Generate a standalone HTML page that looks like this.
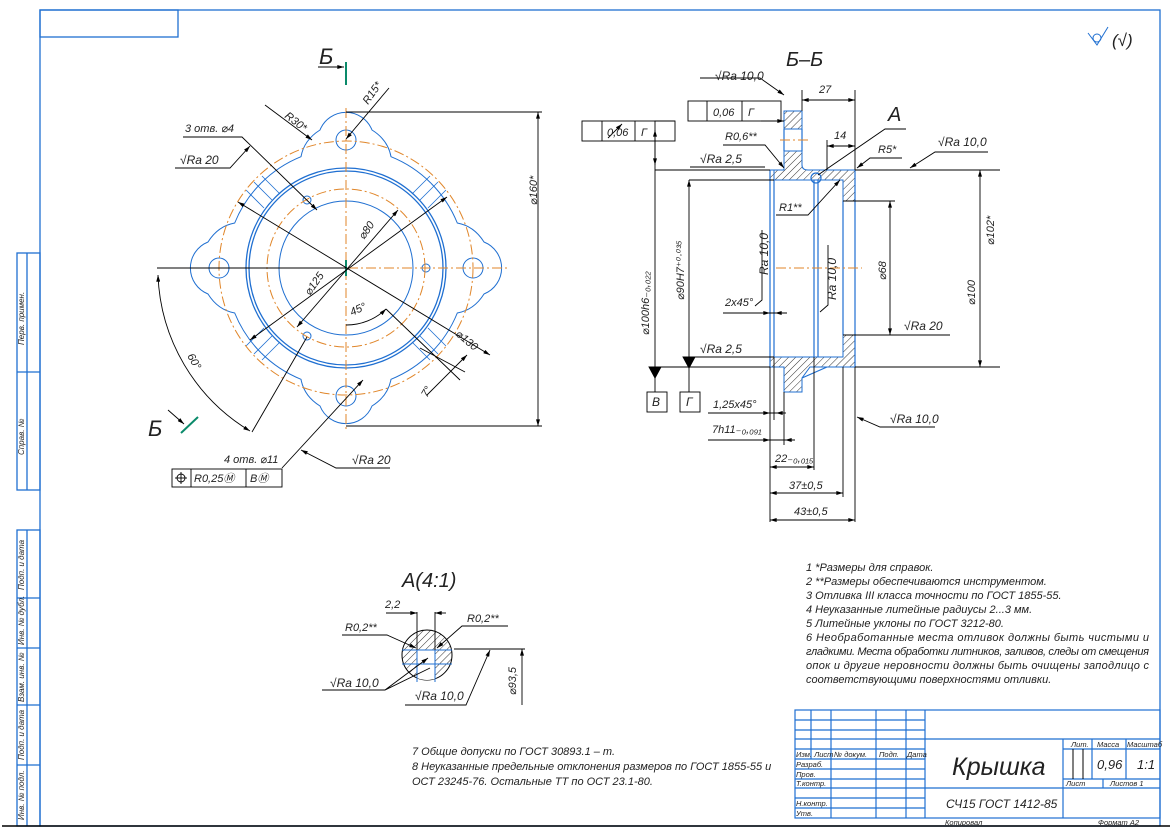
<!DOCTYPE html>
<html><head><meta charset="utf-8"><style>
html,body{margin:0;padding:0;background:#fff}
svg{display:block}
text{font-family:"Liberation Sans","DejaVu Sans",sans-serif;font-style:italic;fill:#222}
.s{font-size:11px}
.m{font-size:12px}
</style></head><body>
<svg width="1172" height="830" viewBox="0 0 1172 830" xmlns="http://www.w3.org/2000/svg">
<defs>
<marker id="a" viewBox="0 0 10 6" refX="10" refY="3" markerWidth="10" markerHeight="4" orient="auto-start-reverse" markerUnits="userSpaceOnUse"><path d="M0,0L10,3L0,6z" fill="#000"/></marker>
<pattern id="h" width="5" height="5" patternUnits="userSpaceOnUse" patternTransform="rotate(45)"><line x1="0" y1="0" x2="0" y2="5" stroke="#000" stroke-width="0.8"/></pattern>
<path id="q" d="M-84.9,-84.9 A120,120 0 0 1 -45,-111.3 Q-42,-128 -26,-138 A28,28 0 0 1 26,-138 Q42,-128 45,-111.3 A120,120 0 0 1 84.9,-84.9" fill="none" stroke="#1f6fd1" stroke-width="1"/>
</defs>
<!-- frame -->
<g fill="none" stroke="#1f6fd1" stroke-width="1.3">
<rect x="40" y="10" width="1120" height="816"/>
<rect x="40" y="10" width="138" height="27"/>
<rect x="17" y="253" width="23" height="237"/>
<line x1="17" y1="372" x2="40" y2="372"/>
<line x1="27" y1="253" x2="27" y2="490"/>
<rect x="17" y="530" width="23" height="296"/>
<line x1="27" y1="530" x2="27" y2="826"/>
<line x1="17" y1="598" x2="40" y2="598"/><line x1="17" y1="648" x2="40" y2="648"/><line x1="17" y1="705" x2="40" y2="705"/><line x1="17" y1="765" x2="40" y2="765"/>
</g>
<line x1="2" y1="826" x2="1170" y2="826" stroke="#000" stroke-width="1.5"/>
<g font-size="8">
<text transform="translate(24,345) rotate(-90)" font-size="8">Перв. примен.</text>
<text transform="translate(24,455) rotate(-90)" font-size="8">Справ. №</text>
<text transform="translate(24,590) rotate(-90)" font-size="8">Подп. и дата</text>
<text transform="translate(24,645) rotate(-90)" font-size="8">Инв. № дубл.</text>
<text transform="translate(24,702) rotate(-90)" font-size="8">Взам. инв. №</text>
<text transform="translate(24,760) rotate(-90)" font-size="8">Подп. и дата</text>
<text transform="translate(24,820) rotate(-90)" font-size="8">Инв. № подл.</text>
</g>
<!-- top right roughness -->
<path d="M1088,33 L1097,45 L1108,27" fill="none" stroke="#1f6fd1"/>
<circle cx="1097" cy="38" r="4" fill="none" stroke="#1f6fd1"/>
<text x="1112" y="46" font-size="17">(√)</text>

<!-- LEFT VIEW -->
<g transform="translate(346,268)">
<use href="#q"/><use href="#q" transform="rotate(90)"/><use href="#q" transform="rotate(180)"/><use href="#q" transform="rotate(270)"/>
<g fill="none" stroke="#1f6fd1">
<circle r="100" stroke-width="1.3"/><circle r="97" stroke-width="1.3"/><circle r="67"/>
<circle cx="0" cy="-128" r="10"/><circle cx="0" cy="128" r="10"/><circle cx="-127" cy="0" r="10"/><circle cx="127" cy="0" r="10"/>
<circle cx="80" cy="0" r="4"/><circle cx="-39" cy="-68" r="4"/><circle cx="-39" cy="68" r="4"/>
<g stroke-width="0.8">
<path d="M-82,-60 L-100,-78 M-74,-68 L-92,-86 M-66,-74 L-84,-92 M82,-60 L100,-78 M74,-68 L92,-86 M66,-74 L84,-92 M-82,60 L-100,78 M-74,68 L-92,86 M-66,74 L-84,92 M82,60 L100,78 M74,68 L92,86 M66,74 L84,92"/>
</g>
</g>
<g fill="none" stroke="#e0862a" stroke-dasharray="10,3,2,3">
<circle r="127"/><circle r="79"/>
<line x1="-160" y1="0" x2="162" y2="0"/><line x1="0" y1="-160" x2="0" y2="162"/>
</g>
<line x1="0" y1="-8" x2="0" y2="8" stroke="#0a8a6a" stroke-width="2"/>
</g>
<g stroke="#000" fill="none" stroke-width="0.9">
<line x1="346" y1="112" x2="542" y2="112"/><line x1="346" y1="426" x2="542" y2="426"/>
<line x1="538" y1="112" x2="538" y2="426" marker-start="url(#a)" marker-end="url(#a)"/>
<line x1="265" y1="105" x2="312" y2="140" marker-end="url(#a)"/>
<line x1="389" y1="88" x2="346" y2="139" marker-end="url(#a)"/>
<path d="M183,137 L242,137 L317,210" marker-end="url(#a)"/>
<path d="M175,168 L230,168 L250,146" marker-end="url(#a)"/>
<line x1="238" y1="202" x2="490" y2="355" marker-start="url(#a)" marker-end="url(#a)"/>
<line x1="250" y1="340" x2="447" y2="197" marker-start="url(#a)" marker-end="url(#a)"/>
<line x1="297" y1="327" x2="398" y2="210" marker-start="url(#a)" marker-end="url(#a)"/>
<line x1="157" y1="268" x2="346" y2="268"/>
<line x1="252" y1="432" x2="307" y2="337"/>
<path d="M158,275 A190,190 0 0 0 250,431" marker-start="url(#a)" marker-end="url(#a)"/>
<path d="M346,325 A57,57 0 0 0 386,309" marker-end="url(#a)"/>
<line x1="386" y1="309" x2="460" y2="380"/>
<line x1="420" y1="348" x2="465" y2="372"/>
<line x1="467" y1="355" x2="427" y2="395" marker-start="url(#a)"/>
<line x1="282" y1="468" x2="363" y2="380" marker-end="url(#a)"/>
<path d="M390,468 L336,468 L301,450" marker-end="url(#a)"/>
<line x1="318" y1="67" x2="344" y2="67" marker-end="url(#a)"/>
<line x1="168" y1="410" x2="184" y2="424" marker-end="url(#a)"/>
</g>
<line x1="346" y1="62" x2="346" y2="85" stroke="#0a8a6a" stroke-width="2"/>
<line x1="181" y1="433" x2="198" y2="417" stroke="#0a8a6a" stroke-width="2"/>
<text x="319" y="64" font-size="22" font-style="normal">Б</text>
<text x="148" y="436" font-size="22" font-style="normal">Б</text>
<g class="s">
<text transform="translate(284,117) rotate(38)">R30*</text>
<text transform="translate(368,105) rotate(-55)">R15*</text>
<text x="185" y="132">3 отв. ⌀4</text>
<text x="180" y="164" font-size="12">√Ra 20</text>
<text transform="translate(537,205) rotate(-90)">⌀160*</text>
<text transform="translate(364,240) rotate(-55)">⌀80</text>
<text transform="translate(310,296) rotate(-55)">⌀125</text>
<text transform="translate(455,335) rotate(40)">⌀130</text>
<text transform="translate(352,316) rotate(-25)">45°</text>
<text transform="translate(427,398) rotate(-60)">7°</text>
<text transform="translate(187,356) rotate(60)">60°</text>
<text x="224" y="463">4 отв. ⌀11</text>
<text x="352" y="464" font-size="12">√Ra 20</text>
</g>
<g fill="none" stroke="#000" stroke-width="0.9">
<rect x="172" y="469" width="110" height="18"/><line x1="191" y1="469" x2="191" y2="487"/><line x1="246" y1="469" x2="246" y2="487"/>
<circle cx="181" cy="478" r="4"/><line x1="175" y1="478" x2="187" y2="478"/><line x1="181" y1="472" x2="181" y2="484"/>
<line x1="175" y1="168" x2="230" y2="168"/>
</g>
<text x="194" y="482" class="s">R0,25Ⓜ</text><text x="250" y="482" class="s">BⓂ</text>

<!-- SECTION Б-Б -->
<text x="786" y="66" font-size="20" font-style="normal">Б–Б</text>
<text x="888" y="121" font-size="20" font-style="normal">A</text>
<g fill="url(#h)" stroke="#1f6fd1" stroke-width="1">
<path d="M784,111 H802 V129 H784 Z"/>
<path d="M784,151 H802 V165 Q802,170 808,170 H855 V201 H843 V180 H774 V170 H784 Z"/>
<path d="M770,170 H774 V180 H770Z"/>
<path d="M784,392 H802 V378 L810,367 H855 V335 H843 V357 H770 V367 H784 Z"/>
</g>
<g fill="none" stroke="#1f6fd1" stroke-width="1.2">
<line x1="770" y1="170" x2="770" y2="367"/><line x1="774" y1="180" x2="774" y2="357"/>
<line x1="814" y1="180" x2="814" y2="357"/><line x1="818" y1="180" x2="818" y2="357"/>
<line x1="843" y1="201" x2="843" y2="335"/><line x1="855" y1="170" x2="855" y2="367"/>
<line x1="784" y1="129" x2="784" y2="151"/><line x1="802" y1="129" x2="802" y2="151"/>
<circle cx="816" cy="178" r="5"/>
<path d="M802,378 L827,367"/>
</g>
<g stroke="#e0862a" stroke-dasharray="10,3,2,3"><line x1="776" y1="268" x2="862" y2="268"/><line x1="780" y1="140" x2="808" y2="140"/></g>
<g stroke="#000" fill="none" stroke-width="0.9">
<line x1="655" y1="170" x2="770" y2="170"/><line x1="855" y1="170" x2="1000" y2="170"/>
<line x1="655" y1="367" x2="770" y2="367"/><line x1="855" y1="367" x2="1000" y2="367"/>
<line x1="689" y1="180" x2="774" y2="180"/><line x1="689" y1="357" x2="774" y2="357"/>
<line x1="843" y1="201" x2="895" y2="201"/><line x1="843" y1="335" x2="920" y2="335"/>
<line x1="655" y1="130" x2="655" y2="367" marker-start="url(#a)"/>
<line x1="689" y1="180" x2="689" y2="367" marker-start="url(#a)"/>
<path d="M649,367 L661,367 L655,378Z M683,357 L695,357 L689,368Z" fill="#000"/>
<line x1="655" y1="378" x2="655" y2="392"/><line x1="689" y1="368" x2="689" y2="392"/>
<rect x="647" y="392" width="20" height="20"/><rect x="680" y="392" width="20" height="20"/>
<line x1="980" y1="170" x2="980" y2="367" marker-start="url(#a)" marker-end="url(#a)"/>
<line x1="890" y1="201" x2="890" y2="335" marker-start="url(#a)" marker-end="url(#a)"/>
<line x1="802" y1="90" x2="802" y2="111"/><line x1="855" y1="90" x2="855" y2="170"/>
<line x1="802" y1="100" x2="855" y2="100" marker-start="url(#a)" marker-end="url(#a)"/>
<line x1="827" y1="140" x2="827" y2="170"/>
<line x1="827" y1="146" x2="855" y2="146" marker-start="url(#a)" marker-end="url(#a)"/>
<path d="M700,78 L760,78 L784,95" marker-end="url(#a)"/>
<rect x="688" y="101" width="93" height="20"/><line x1="707" y1="101" x2="707" y2="121"/><line x1="742" y1="101" x2="742" y2="121"/>
<line x1="761" y1="121" x2="784" y2="121" marker-end="url(#a)"/>
<path d="M723,145 L765,145 L784,168" marker-end="url(#a)"/>
<rect x="582" y="121" width="93" height="20"/><line x1="602" y1="121" x2="602" y2="141"/><line x1="635" y1="121" x2="635" y2="141"/>
<path d="M675,121 L655,121 L655,165" marker-end="url(#a)"/>
<line x1="608" y1="138" x2="622" y2="124" marker-end="url(#a)"/>
<line x1="690" y1="167" x2="765" y2="167"/>
<path d="M906,129 L885,129 L818,175"/>
<path d="M902,158 L870,158 L857,168" marker-end="url(#a)"/>
<path d="M988,152 L935,152 L910,168" marker-end="url(#a)"/>
<path d="M776,215 L808,215 L840,180" marker-end="url(#a)"/>
<line x1="723" y1="313" x2="787" y2="313"/>
<line x1="762" y1="313" x2="770" y2="313" marker-end="url(#a)"/>
<line x1="783" y1="313" x2="775" y2="313" marker-end="url(#a)"/>
<line x1="700" y1="357" x2="770" y2="357"/>
<line x1="900" y1="335" x2="950" y2="335"/>
<line x1="774" y1="357" x2="774" y2="420"/><line x1="770" y1="367" x2="770" y2="522"/>
<line x1="784" y1="392" x2="784" y2="445"/><line x1="814" y1="357" x2="814" y2="470"/>
<line x1="843" y1="367" x2="843" y2="497"/><line x1="855" y1="367" x2="855" y2="522"/>
<line x1="708" y1="413" x2="783" y2="413"/>
<line x1="762" y1="413" x2="770" y2="413" marker-end="url(#a)"/><line x1="786" y1="413" x2="776" y2="413" marker-end="url(#a)"/>
<line x1="708" y1="440" x2="795" y2="440"/>
<line x1="762" y1="440" x2="770" y2="440" marker-end="url(#a)"/><line x1="795" y1="440" x2="785" y2="440" marker-end="url(#a)"/>
<line x1="770" y1="467" x2="814" y2="467" marker-start="url(#a)" marker-end="url(#a)"/>
<line x1="770" y1="493" x2="843" y2="493" marker-start="url(#a)" marker-end="url(#a)"/>
<line x1="770" y1="520" x2="855" y2="520" marker-start="url(#a)" marker-end="url(#a)"/>
<path d="M935,427 L880,427 L857,417" marker-end="url(#a)"/>
<path d="M762,230 L762,300 L755,306"/><path d="M828,245 L828,305 L820,312"/>
</g>
<g class="s">
<text x="715" y="80" font-size="12">√Ra 10,0</text>
<text x="713" y="116">0,06</text><text x="748" y="116">Г</text>
<text x="607" y="136">0,06</text><text x="641" y="136">Г</text>
<text x="725" y="140">R0,6**</text>
<text x="700" y="163" font-size="12">√Ra 2,5</text>
<text x="819" y="93">27</text><text x="834" y="139">14</text>
<text x="878" y="153">R5*</text>
<text x="938" y="146" font-size="12">√Ra 10,0</text>
<text x="779" y="211">R1**</text>
<text transform="translate(768,275) rotate(-90)" font-size="12">Ra 10,0</text>
<text transform="translate(836,300) rotate(-90)" font-size="12">Ra 10,0</text>
<text transform="translate(649,335) rotate(-90)">⌀100h6₋₀,₀₂₂</text>
<text transform="translate(684,300) rotate(-90)">⌀90H7⁺⁰·⁰³⁵</text>
<text transform="translate(994,245) rotate(-90)">⌀102*</text>
<text transform="translate(975,305) rotate(-90)">⌀100</text>
<text transform="translate(886,280) rotate(-90)">⌀68</text>
<text x="725" y="306">2x45°</text>
<text x="904" y="330" font-size="12">√Ra 20</text>
<text x="700" y="353" font-size="12">√Ra 2,5</text>
<text x="652" y="406" font-size="12">В</text><text x="686" y="406" font-size="12">Г</text>
<text x="713" y="408">1,25x45°</text>
<text x="712" y="433">7h11₋₀,₀₉₁</text>
<text x="775" y="462">22₋₀,₀₁₅</text>
<text x="789" y="489">37±0,5</text>
<text x="794" y="515">43±0,5</text>
<text x="890" y="423" font-size="12">√Ra 10,0</text>
</g>

<!-- DETAIL A -->
<text x="402" y="587" font-size="20" font-style="normal">A(4:1)</text>
<g>
<clipPath id="c"><circle cx="427" cy="655" r="25"/></clipPath>
<circle cx="427" cy="655" r="25" fill="url(#h)" stroke="#000"/>
<rect x="417" y="650" width="18" height="32" fill="#fff" clip-path="url(#c)"/>
<g stroke="#1f6fd1" fill="none"><line x1="417" y1="650" x2="417" y2="682"/><line x1="435" y1="650" x2="435" y2="682"/><line x1="402" y1="650" x2="452" y2="650"/><line x1="402" y1="664" x2="452" y2="664"/></g>
</g>
<g stroke="#000" fill="none" stroke-width="0.9">
<line x1="417" y1="612" x2="417" y2="650"/><line x1="435" y1="612" x2="435" y2="650"/>
<line x1="386" y1="613" x2="417" y2="613" marker-end="url(#a)"/><line x1="446" y1="613" x2="435" y2="613" marker-end="url(#a)"/>
<path d="M342,635 L387,635 L416,648" marker-end="url(#a)"/>
<path d="M508,626 L462,626 L437,648" marker-end="url(#a)"/>
<path d="M322,690 L385,690 L430,668 M385,690 L428,658" marker-end="url(#a)"/>
<path d="M405,705 L466,705 L490,650" marker-end="url(#a)"/>
<line x1="454" y1="649" x2="525" y2="649"/>
<line x1="522" y1="649" x2="522" y2="705" marker-start="url(#a)"/>
</g>
<g class="s">
<text x="385" y="608">2,2</text>
<text x="345" y="631">R0,2**</text>
<text x="467" y="622">R0,2**</text>
<text x="330" y="687" font-size="12">√Ra 10,0</text>
<text x="415" y="700" font-size="12">√Ra 10,0</text>
<text transform="translate(516,695) rotate(-90)">⌀93,5</text>
</g>

<!-- NOTES -->
<g class="s">
<text x="806" y="571">1 *Размеры для справок.</text>
<text x="806" y="585">2 **Размеры обеспечиваются инструментом.</text>
<text x="806" y="599">3 Отливка III класса точности по ГОСТ 1855-55.</text>
<text x="806" y="613">4 Неуказанные литейные радиусы 2...3 мм.</text>
<text x="806" y="627">5 Литейные уклоны по ГОСТ 3212-80.</text>
<text x="806" y="641" textLength="343">6 Необработанные места отливок должны быть чистыми и</text>
<text x="806" y="655" textLength="343">гладкими. Места обработки литников, заливов, следы от смещения</text>
<text x="806" y="669" textLength="343">опок и другие неровности должны быть очищены заподлицо с</text>
<text x="806" y="683">соответствующими поверхностями отливки.</text>
<text x="412" y="755">7 Общие допуски по ГОСТ 30893.1 – т.</text>
<text x="412" y="770">8 Неуказанные предельные отклонения размеров по ГОСТ 1855-55 и</text>
<text x="412" y="785">ОСТ 23245-76. Остальные ТТ по ОСТ 23.1-80.</text>
</g>

<!-- TITLE BLOCK -->
<g stroke="#1f6fd1" fill="none" stroke-width="1.2">
<rect x="795" y="710" width="365" height="108"/>
<line x1="811" y1="710" x2="811" y2="759"/><line x1="831" y1="710" x2="831" y2="818"/>
<line x1="876" y1="710" x2="876" y2="818"/><line x1="906" y1="710" x2="906" y2="818"/>
<line x1="925" y1="710" x2="925" y2="818"/>
<line x1="795" y1="720" x2="925" y2="720"/><line x1="795" y1="730" x2="925" y2="730"/>
<line x1="795" y1="739" x2="1160" y2="739"/><line x1="795" y1="749" x2="925" y2="749"/>
<line x1="795" y1="759" x2="925" y2="759"/><line x1="795" y1="769" x2="925" y2="769"/>
<line x1="795" y1="779" x2="925" y2="779"/><line x1="795" y1="788" x2="1160" y2="788"/>
<line x1="795" y1="798" x2="925" y2="798"/><line x1="795" y1="808" x2="925" y2="808"/>
<line x1="1063" y1="739" x2="1063" y2="818"/>
<line x1="1063" y1="749" x2="1160" y2="749"/><line x1="1063" y1="779" x2="1160" y2="779"/>
<line x1="1092" y1="739" x2="1092" y2="779"/><line x1="1126" y1="739" x2="1126" y2="779"/>
<line x1="1103" y1="779" x2="1103" y2="788"/>
</g>
<g stroke="#000"><line x1="1073" y1="749" x2="1073" y2="779"/><line x1="1083" y1="749" x2="1083" y2="779"/></g>
<g font-size="7.5">
<text x="796" y="757" font-size="7.5">Изм. Лист</text><text x="834" y="757" font-size="7.5">№ докум.</text><text x="879" y="757" font-size="7.5">Подп.</text><text x="907" y="757" font-size="7.5">Дата</text>
<text x="796" y="767" font-size="7.5">Разраб.</text><text x="796" y="777" font-size="7.5">Пров.</text><text x="796" y="786" font-size="7.5">Т.контр.</text>
<text x="796" y="806" font-size="7.5">Н.контр.</text><text x="796" y="816" font-size="7.5">Утв.</text>
<text x="1071" y="747" font-size="7.5">Лит.</text><text x="1097" y="747" font-size="7.5">Масса</text><text x="1127" y="747" font-size="7.5">Масштаб</text>
<text x="1066" y="786" font-size="7.5">Лист</text><text x="1110" y="786" font-size="7.5">Листов  1</text>
<text x="945" y="825" font-size="7.5">Копировал</text><text x="1098" y="825" font-size="7.5">Формат   A2</text>
</g>
<text x="952" y="775" font-size="25">Крышка</text>
<text x="946" y="808" font-size="12">СЧ15 ГОСТ 1412-85</text>
<text x="1097" y="769" font-size="13">0,96</text><text x="1137" y="769" font-size="13">1:1</text>
</svg>
</body></html>
